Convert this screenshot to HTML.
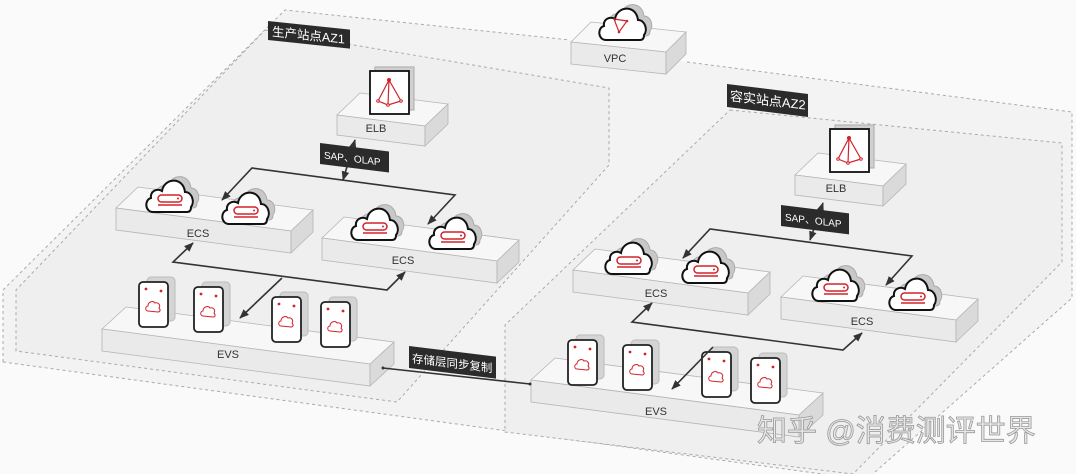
<!DOCTYPE html>
<html><head><meta charset="utf-8">
<style>
html,body{margin:0;padding:0;background:#fafafa;}
svg{display:block;}
text{font-family:"Liberation Sans","Noto Sans CJK SC",sans-serif;}
</style></head>
<body>
<svg width="1076" height="474" viewBox="0 0 1076 474" xmlns="http://www.w3.org/2000/svg">
<defs>
  <marker id="ar" viewBox="0 0 10 10" refX="9" refY="5" markerWidth="6" markerHeight="6" orient="auto-start-reverse">
    <path d="M0,1 L10,5 L0,9 z" fill="#333"/>
  </marker>
  <path id="cl" d="M8,36 C0,36 -1,24 6,22 C5,15 12,12 17,15 C19,2 38,0 40,16 C47,16 50,26 46,31 C46,35 44,36 42,36 Z"/>
  <g id="cloud">
    <use href="#cl" transform="translate(6,-4)" fill="#c8c8c8" stroke="#aaa" stroke-width="1"/>
    <use href="#cl" fill="#fff" stroke="#111" stroke-width="2"/>
    <rect x="13" y="19" width="24" height="7" rx="3.5" fill="none" stroke="#d2232a" stroke-width="1.5"/>
    <line x1="13" y1="29" x2="37" y2="29" stroke="#d2232a" stroke-width="1.5"/>
    <circle cx="33" cy="22.5" r="1" fill="#d2232a"/>
  </g>
  <g id="card">
    <rect x="8" y="-5" width="28" height="44" rx="4" fill="#d4d4d4" stroke="#bbb"/>
    <rect x="0" y="0" width="29" height="45" rx="4" fill="#fff" stroke="#222" stroke-width="1.8"/>
    <circle cx="7" cy="7" r="1.4" fill="#d2232a"/>
    <circle cx="22" cy="9" r="1.4" fill="#d2232a"/>
    <path d="M9,29 C6,29 6,24 9,24 C9,20 14,18 16,21 C19,20 22,23 20,26 C22,28 21,30 19,30 Z" fill="none" stroke="#d2232a" stroke-width="1"/>
  </g>
  <g id="doc">
    <rect x="5" y="-4" width="39" height="43" fill="#d0d0d0" stroke="#aaa"/>
    <rect x="0" y="0" width="39" height="43" fill="#fff" stroke="#111" stroke-width="1.8"/>
    <circle cx="19" cy="9" r="2" fill="#d2232a"/>
    <path d="M19,9 L8,30 L18,34 L31,30 Z M19,9 L18,34" fill="none" stroke="#d2232a" stroke-width="1.2"/>
    <circle cx="8" cy="30" r="1.3" fill="#fff" stroke="#d2232a"/>
    <circle cx="18" cy="34" r="1.3" fill="#fff" stroke="#d2232a"/>
    <circle cx="31" cy="30" r="1.3" fill="#fff" stroke="#d2232a"/>
  </g>
</defs>

<!-- outer VPC region -->
<polygon points="285,10 570,40 687,62 1072,112 1072,298 866,480 3,362 3,290" fill="#f3f3f3"/>
<polyline points="3,362 3,290 285,10 570,40" fill="none" stroke="#aaa" stroke-dasharray="3,3"/>
<polyline points="687,62 1072,112 1072,298 866,480" fill="none" stroke="#aaa" stroke-dasharray="3,3"/>
<polyline points="3,362 866,480" fill="none" stroke="#aaa" stroke-dasharray="3,3"/>

<!-- AZ1 region -->
<polygon points="265,30 609,88 609,165 397,402 16,351 16,290" fill="#efefef" stroke="#aaa" stroke-dasharray="3,3"/>
<!-- AZ2 region -->
<polygon points="730,110 1062,143 1062,262 853,474 505,432 505,325" fill="#efefef" stroke="#aaa" stroke-dasharray="3,3"/>

<!-- slabs -->
<g stroke="#b5b5b5" stroke-width="0.8">
<polygon points="571,42 591,22 686,32 666,52" fill="#f7f7f7"/><polygon points="571,42 666,52 666,74 571,64" fill="#eaeaea"/><polygon points="666,52 686,32 686,54 666,74" fill="#dadada"/>
<polygon points="337,115 360,93 448,104 425,126" fill="#f7f7f7"/><polygon points="337,115 425,126 425,146 337,135" fill="#eaeaea"/><polygon points="425,126 448,104 448,124 425,146" fill="#dadada"/>
<polygon points="795,175 818,153 906,164 883,186" fill="#f7f7f7"/><polygon points="795,175 883,186 883,206 795,195" fill="#eaeaea"/><polygon points="883,186 906,164 906,184 883,206" fill="#dadada"/>
<polygon points="116,208 138,187 313,210 291,231" fill="#f7f7f7"/><polygon points="116,208 291,231 291,253 116,230" fill="#eaeaea"/><polygon points="291,231 313,210 313,232 291,253" fill="#dadada"/>
<polygon points="322,238 344,217 519,240 497,261" fill="#f7f7f7"/><polygon points="322,238 497,261 497,283 322,260" fill="#eaeaea"/><polygon points="497,261 519,240 519,262 497,283" fill="#dadada"/>
<polygon points="573,270 595,249 770,272 748,293" fill="#f7f7f7"/><polygon points="573,270 748,293 748,315 573,292" fill="#eaeaea"/><polygon points="748,293 770,272 770,294 748,315" fill="#dadada"/>
<polygon points="781,297 803,276 978,299 956,320" fill="#f7f7f7"/><polygon points="781,297 956,320 956,342 781,319" fill="#eaeaea"/><polygon points="956,320 978,299 978,321 956,342" fill="#dadada"/>
<polygon points="102,329 126,307 394,342 370,364" fill="#f7f7f7"/><polygon points="102,329 370,364 370,386 102,351" fill="#eaeaea"/><polygon points="370,364 394,342 394,364 370,386" fill="#dadada"/>
<polygon points="531,380 555,358 823,393 799,415" fill="#f7f7f7"/><polygon points="531,380 799,415 799,437 531,402" fill="#eaeaea"/><polygon points="799,415 823,393 823,415 799,437" fill="#dadada"/>
</g>

<!-- icons -->
<use href="#doc" x="370" y="71"/>
<use href="#doc" x="830" y="129"/>
<g transform="translate(598,4)">
  <use href="#cl" transform="translate(6,-4)" fill="#c8c8c8" stroke="#aaa"/>
  <use href="#cl" fill="#fff" stroke="#111" stroke-width="2"/>
  <path d="M16,15 L29,17 L21,28 Z" fill="none" stroke="#d2232a" stroke-width="1.2"/>
  <circle cx="29" cy="17" r="1.3" fill="#d2232a"/><circle cx="21" cy="28" r="1.3" fill="#d2232a"/>
</g>
<use href="#cloud" x="145" y="176"/>
<use href="#cloud" x="221" y="188"/>
<use href="#cloud" x="350" y="204"/>
<use href="#cloud" x="428" y="213"/>
<use href="#cloud" x="604" y="238"/>
<use href="#cloud" x="681" y="247"/>
<use href="#cloud" x="811" y="265"/>
<use href="#cloud" x="888" y="274"/>

<use href="#card" x="139" y="282"/>
<use href="#card" x="194" y="287"/>
<use href="#card" x="272" y="297"/>
<use href="#card" x="321" y="302"/>
<use href="#card" x="568" y="340"/>
<use href="#card" x="623" y="345"/>
<use href="#card" x="702" y="352"/>
<use href="#card" x="751" y="358"/>

<!-- connectors -->
<g fill="none" stroke="#333" stroke-width="1.6">
  <line x1="343" y1="180" x2="355" y2="140" marker-end="url(#ar)" marker-start="url(#ar)"/>
  <polyline points="222,200 252,168 455,195 428,224" marker-start="url(#ar)" marker-end="url(#ar)"/>
  <polyline points="193,243 173,262 387,290 405,272" marker-start="url(#ar)" marker-end="url(#ar)"/>
  <line x1="282" y1="278" x2="240" y2="318" marker-end="url(#ar)"/>
  <line x1="810" y1="240" x2="823" y2="203" marker-end="url(#ar)" marker-start="url(#ar)"/>
  <polyline points="683,258 710,229 912,256 886,285" marker-start="url(#ar)" marker-end="url(#ar)"/>
  <polyline points="652,303 632,322 843,350 862,333" marker-start="url(#ar)" marker-end="url(#ar)"/>
  <line x1="713" y1="347" x2="672" y2="389" marker-end="url(#ar)"/>
  <polyline points="383,368 530,384"/>
</g>
<circle cx="383" cy="368" r="1.5" fill="#333"/><circle cx="530" cy="384" r="1.5" fill="#333"/>

<!-- black labels -->
<g transform="translate(268,21) skewY(6)"><rect width="82" height="19" fill="#2b2b2b"/><text x="4" y="14.5" font-size="12.5" fill="#fff">生产站点AZ1</text></g>
<g transform="translate(727,84) skewY(7)"><rect width="81" height="23" fill="#2b2b2b"/><text x="3" y="16" font-size="13" fill="#fff">容实站点AZ2</text></g>
<g transform="translate(320,143) skewY(7)"><rect width="69" height="21" fill="#2b2b2b"/><text x="4" y="15" font-size="10" fill="#fff">SAP、OLAP</text></g>
<g transform="translate(781,205) skewY(7)"><rect width="68" height="21" fill="#2b2b2b"/><text x="4" y="15" font-size="10" fill="#fff">SAP、OLAP</text></g>
<g transform="translate(409,346) skewY(7)"><rect width="87" height="22" fill="#2b2b2b"/><text x="3" y="16" font-size="11.5" fill="#fff">存储层同步复制</text></g>

<!-- slab labels -->
<g font-size="11" fill="#333" text-anchor="middle">
<text x="615" y="62">VPC</text>
<text x="376" y="132">ELB</text>
<text x="836" y="192">ELB</text>
<text x="198" y="237">ECS</text>
<text x="403" y="264">ECS</text>
<text x="656" y="297">ECS</text>
<text x="862" y="325">ECS</text>
<text x="228" y="358">EVS</text>
<text x="656" y="415">EVS</text>
</g>

<text x="757" y="441" font-size="30" fill="#e8e8e8" stroke="#999" stroke-width="0.8">知乎 @消费测评世界</text>
</svg>
</body></html>
